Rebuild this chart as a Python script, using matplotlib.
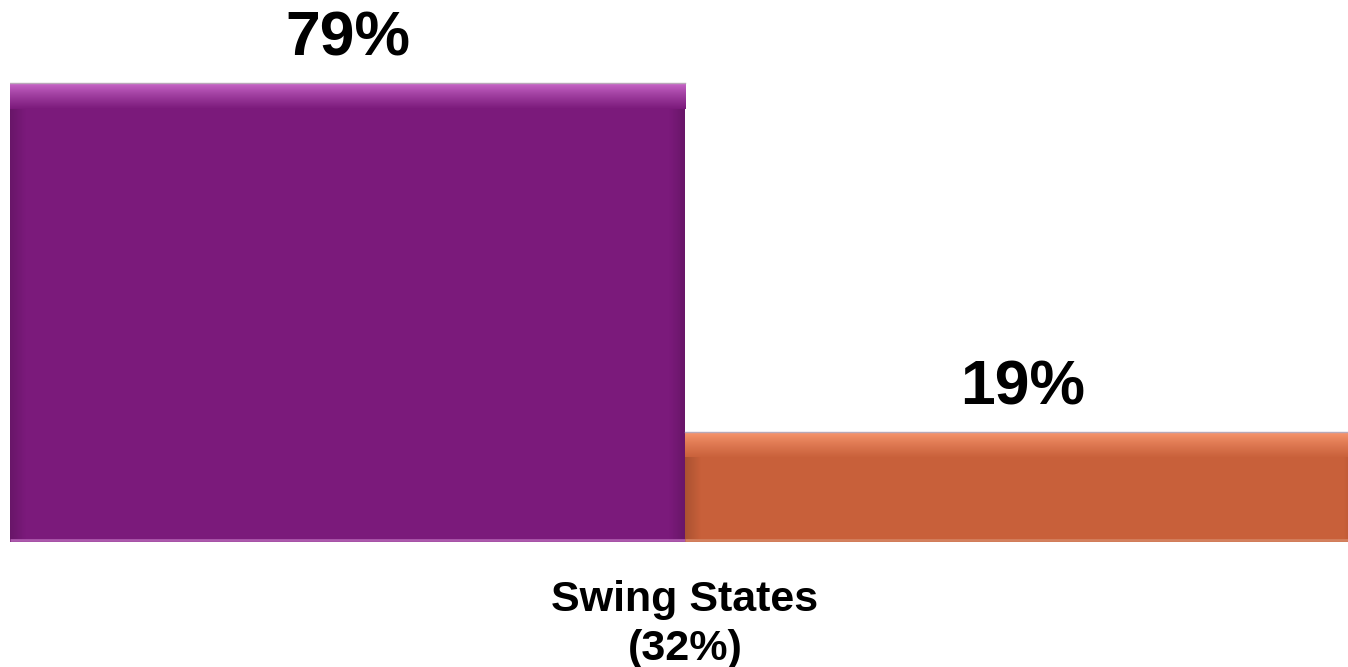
import numpy as np
import matplotlib
matplotlib.use("Agg")
import matplotlib.pyplot as plt
from matplotlib.colors import to_rgb

plt.rcParams['font.family'] = ['Liberation Sans', 'DejaVu Sans']

category = "Swing States\n(32%)"
series = ["Group A", "Group B"]
values = [79, 19]
labels = ["79%", "19%"]
colors = ["#7B1A7B", "#C8603A"]
highlights = ["#CC6ACC", "#FA9870"]

W, H = 1348, 667
fig = plt.figure(figsize=(W / 100, H / 100), dpi=100)
# plot area runs a little past the right edge of the picture
left_px, right_px = 10, 1360
ax = fig.add_axes([left_px / W, (H - 542) / H, (right_px - left_px) / W, 542 / H])

ymax = 542 / (459 / 79)  # px per unit from the tall bar
ax.set_xlim(-1, 1)
ax.set_ylim(0, ymax)

xs = [-0.5, 0.5]
bars = ax.bar(xs, values, width=1.0, color=colors, edgecolor="none", zorder=2)

band = 26 / (542 / ymax)   # top bevel height in data units
side = 16 / ((right_px - left_px) / 2)  # side bevel width in data units

for b, c, hl, lab in zip(bars, colors, highlights, labels):
    x0 = b.get_x()
    x1 = x0 + b.get_width()
    h = b.get_height()
    base = np.array(to_rgb(c))
    light = np.array(to_rgb(hl))
    # top highlight gradient
    t = np.linspace(0, 1, 64)[:, None] ** 0.8
    top = light * (1 - t) + base * t
    img = np.concatenate([top, np.ones((64, 1))], axis=1)[:, None, :]
    ax.imshow(img, extent=(x0, x1, h - band, h), aspect="auto", zorder=3,
              interpolation="bilinear")
    # left darker bevel
    s = np.linspace(0, 1, 32)[None, :]
    dark = base * 0.85
    left = dark[None, None, :] * (1 - s[..., None]) + base[None, None, :] * s[..., None]
    ax.imshow(left, extent=(x0, x0 + side, 0, h - band), aspect="auto",
              zorder=3, interpolation="bilinear")
    # right darker bevel
    right = left[:, ::-1, :]
    ax.imshow(right, extent=(x1 - side, x1, 0, h - band), aspect="auto",
              zorder=3, interpolation="bilinear")
    # thin bottom edge
    ax.plot([x0, x1], [0.35, 0.35], color=light * 0.85, lw=2, zorder=4,
            solid_capstyle="butt")
    # thin outline at the top
    ax.plot([x0, x1], [h, h], color="#B8A8B8", lw=1, zorder=4)
    ax.text((x0 + x1) / 2, h + 4.7, lab, ha="center", va="baseline",
            fontsize=45, fontweight="bold", color="black", clip_on=False)

ax.set_xticks([0])
ax.set_xticklabels([category], fontsize=31, fontweight="bold",
                   linespacing=1.3)
ax.tick_params(axis="x", length=0, pad=27)
ax.set_yticks([])
for sp in ax.spines.values():
    sp.set_visible(False)

fig.savefig("out.png", dpi=100)
